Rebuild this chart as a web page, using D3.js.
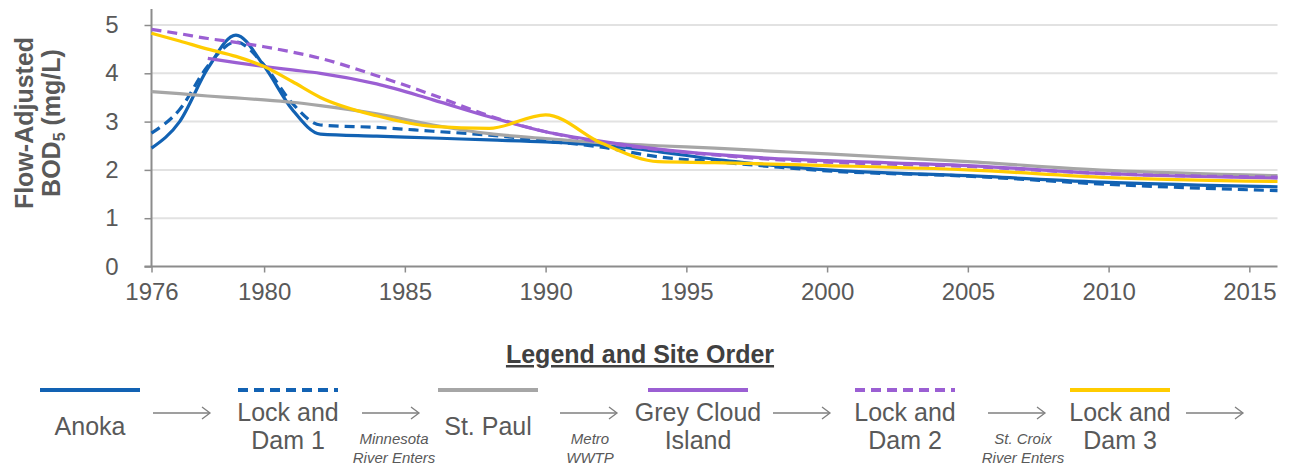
<!DOCTYPE html>
<html>
<head>
<meta charset="utf-8">
<title>Flow-Adjusted BOD5</title>
<script src="https://cdnjs.cloudflare.com/ajax/libs/d3/7.8.5/d3.min.js"></script>
<style>
body { margin: 0; background: #fff; }
svg text { font-family: "Liberation Sans", Arial, sans-serif; }
</style>
</head>
<body>
<script>
// years sampled along the trend lines
var years = [1976,1977,1978,1979,1980,1981,1982,1984,1986,1988,1990,1992,1994,1996,1998,2000,2005,2010,2016];

var anoka      = [2.45,3.00,4.10,4.79,4.15,3.25,2.74,2.70,2.66,2.62,2.58,2.51,2.38,2.22,2.10,2.00,1.88,1.74,1.65];
var lockDam1   = [2.76,3.25,4.15,4.65,4.17,3.38,2.93,2.88,2.80,2.72,2.60,2.47,2.27,2.17,2.07,1.98,1.87,1.70,1.57];
var stPaul     = [3.62,3.58,3.53,3.49,3.45,3.40,3.33,3.16,2.93,2.75,2.65,2.56,2.50,2.45,2.39,2.33,2.17,1.99,1.88];
var greyCloud  = [null,null,4.31,4.22,4.14,4.07,4.00,3.78,3.45,3.10,2.79,2.59,2.43,2.32,2.24,2.19,2.09,1.92,1.83];
var lockDam2   = [4.91,4.82,4.72,4.64,4.55,4.44,4.31,3.95,3.55,3.12,2.79,2.57,2.42,2.31,2.22,2.16,2.07,1.92,1.85];
var lockDam3   = [4.83,4.67,4.50,4.35,4.14,3.83,3.50,3.12,2.90,2.86,3.14,2.55,2.17,2.15,2.12,2.09,2.00,1.84,1.76];

var xTicks = [1976,1980,1985,1990,1995,2000,2005,2010,2015];
var yTicks = [0,1,2,3,4,5];

var siteLabels = ["Anoka", "Lock and\nDam 1", "St. Paul", "Grey Cloud\nIsland", "Lock and\nDam 2", "Lock and\nDam 3"];
var riverNotes = ["", "Minnesota\nRiver Enters", "Metro\nWWTP", "", "St. Croix\nRiver Enters", ""];

var blue = "#1262b3", grey = "#a6a6a6", purple = "#9b5fd3", gold = "#ffcc00";

var series = [
  {name: siteLabels[0], values: anoka, color: blue, dash: null},
  {name: siteLabels[1], values: lockDam1, color: blue, dash: "10,6"},
  {name: siteLabels[2], values: stPaul, color: grey, dash: null},
  {name: siteLabels[3], values: greyCloud, color: purple, dash: null},
  {name: siteLabels[4], values: lockDam2, color: purple, dash: "10,6"},
  {name: siteLabels[5], values: lockDam3, color: gold, dash: null}
];

var W = 1289, H = 468;
var svg = d3.select("body").append("svg")
    .attr("width", W)
    .attr("height", H);

var x = d3.scaleLinear().domain([1976, 2016]).range([151.5, 1277.5]);
var y = d3.scaleLinear().domain([0, 5]).range([266.5, 25]);

// gridlines
svg.append("g")
  .selectAll("line")
  .data(yTicks.slice(1))
  .enter().append("line")
    .attr("x1", x(1976)).attr("x2", x(2016))
    .attr("y1", function(d){ return y(d); })
    .attr("y2", function(d){ return y(d); })
    .attr("stroke", "#e2e2e2")
    .attr("stroke-width", 2);

// x axis
var xAxis = svg.append("g")
    .attr("transform", "translate(0," + y(0) + ")")
    .call(d3.axisBottom(x).tickValues(xTicks).tickFormat(d3.format("d")).tickSize(6).tickSizeOuter(0).tickPadding(10));
xAxis.select(".domain").attr("stroke", "#8c8c8c").attr("stroke-width", 2)
    .attr("d", "M" + (x(1976) - 7) + ",0H" + x(2016));
xAxis.selectAll(".tick line").attr("stroke", "#8c8c8c").attr("stroke-width", 1.5);
xAxis.selectAll(".tick text").attr("fill", "#595959").style("font-size", "24px");

// y axis
var yAxis = svg.append("g")
    .attr("transform", "translate(" + x(1976) + ",0)")
    .call(d3.axisLeft(y).tickValues(yTicks).tickFormat(d3.format("d")).tickSize(7).tickPadding(26));
yAxis.select(".domain").attr("stroke", "#8c8c8c").attr("stroke-width", 2)
    .attr("d", "M0,9V" + y(0));
yAxis.selectAll(".tick line").attr("stroke", "#8c8c8c").attr("stroke-width", 1.5);
yAxis.selectAll(".tick text").attr("fill", "#595959").style("font-size", "24px");

// y title
var yTitle = svg.append("text")
    .attr("transform", "translate(33,123) rotate(-90)")
    .attr("text-anchor", "middle")
    .attr("fill", "#595959")
    .style("font-size", "25px")
    .style("font-weight", "bold");
yTitle.append("tspan").attr("x", 0).attr("y", 0).text("Flow-Adjusted");
yTitle.append("tspan").attr("x", 0).attr("y", 27).text("BOD");
yTitle.append("tspan").attr("dy", 5).style("font-size", "16px").text("5");
yTitle.append("tspan").attr("dy", -5).text(" (mg/L)");

// trend lines
var line = d3.line()
    .x(function(d){ return x(d[0]); })
    .y(function(d){ return y(d[1]); })
    .curve(d3.curveMonotoneX);

svg.append("g")
  .selectAll("path")
  .data(series)
  .enter().append("path")
    .attr("d", function(s){
      return line(years.map(function(yr, i){ return [yr, s.values[i]]; }).filter(function(p){ return p[1] != null; }));
    })
    .attr("fill", "none")
    .attr("stroke", function(s){ return s.color; })
    .attr("stroke-width", 3.2)
    .attr("stroke-dasharray", function(s){ return s.dash; })
    .attr("stroke-linejoin", "round");

// legend
svg.append("text")
    .attr("x", 640).attr("y", 363)
    .attr("text-anchor", "middle")
    .attr("fill", "#404040")
    .style("font-size", "25px")
    .style("font-weight", "bold")
    .style("text-decoration", "underline")
    .text("Legend and Site Order");

var itemX = [90, 288, 488, 698, 905, 1120];
var arrowX = [153, 362, 560, 773, 988, 1186];
var noteX = [0, 394, 590, 0, 1023, 0];

var leg = svg.append("g").selectAll("g")
    .data(series)
    .enter().append("g")
    .attr("transform", function(d, i){ return "translate(" + itemX[i] + ",0)"; });

leg.append("line")
    .attr("x1", -50).attr("x2", 50)
    .attr("y1", 390).attr("y2", 390)
    .attr("stroke", function(s){ return s.color; })
    .attr("stroke-width", 4)
    .attr("stroke-dasharray", function(s){ return s.dash ? "10,6" : null; });

leg.each(function(s){
  var parts = s.name.split("\n");
  var t = d3.select(this).append("text")
      .attr("text-anchor", "middle")
      .attr("fill", "#595959")
      .style("font-size", "25px");
  if (parts.length == 1) {
    t.append("tspan").attr("x", 0).attr("y", 435).text(parts[0]);
  } else {
    t.append("tspan").attr("x", 0).attr("y", 421).text(parts[0]);
    t.append("tspan").attr("x", 0).attr("y", 449).text(parts[1]);
  }
});

// arrows between sites
var arrows = svg.append("g").selectAll("g")
    .data(arrowX)
    .enter().append("g")
    .attr("transform", function(d){ return "translate(" + d + ",413)"; });
arrows.append("line")
    .attr("x1", 0).attr("x2", 56).attr("y1", 0).attr("y2", 0)
    .attr("stroke", "#7f7f7f").attr("stroke-width", 1.3);
arrows.append("path")
    .attr("d", "M49,-6L57,0L49,6")
    .attr("fill", "none")
    .attr("stroke", "#7f7f7f").attr("stroke-width", 1.3);

// river notes
riverNotes.forEach(function(n, i){
  if (!n) return;
  var parts = n.split("\n");
  var t = svg.append("text")
      .attr("text-anchor", "middle")
      .attr("fill", "#595959")
      .style("font-size", "15px")
      .style("font-style", "italic");
  t.append("tspan").attr("x", noteX[i]).attr("y", 444).text(parts[0]);
  t.append("tspan").attr("x", noteX[i]).attr("y", 463).text(parts[1]);
});
</script>
</body>
</html>
